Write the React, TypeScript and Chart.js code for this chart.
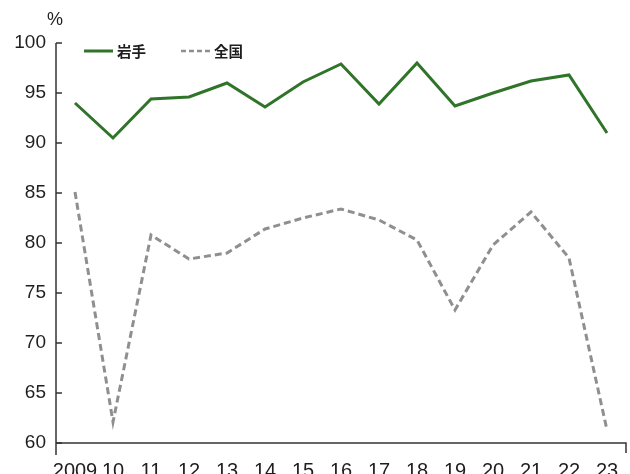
import React, { useEffect, useRef } from "react";
import { Chart, registerables } from "chart.js";

Chart.register(...registerables);

const categories = ["2009", "10", "11", "12", "13", "14", "15", "16", "17", "18", "19", "20", "21", "22", "23"];
const iwate = [94.0, 90.5, 94.4, 94.6, 96.0, 93.6, 96.1, 97.9, 93.9, 98.0, 93.7, 95.0, 96.2, 96.8, 91.0];
const national = [85.1, 62.1, 80.8, 78.4, 79.0, 81.4, 82.5, 83.4, 82.3, 80.3, 73.3, 79.8, 83.1, 78.5, 61.3];
const yTicks = [60, 65, 70, 75, 80, 85, 90, 95, 100];

const GREEN = "#2f7428";
const GRAY = "#8f8f91";
const AXIS = "#333333";
const TEXT = "#1e1e1e";
const FONT = "'Liberation Sans', Arial, Helvetica, sans-serif";
const CJK = "'Noto Sans CJK JP', 'Noto Sans', sans-serif";

const decorPlugin = {
  id: "decor",
  afterDraw(chart: any) {
    const ctx = chart.ctx;
    const a = chart.chartArea;
    const y = chart.scales.y;
    ctx.save();
    ctx.strokeStyle = AXIS;
    ctx.lineWidth = 1.5;
    // y axis line
    ctx.beginPath();
    ctx.moveTo(a.left, a.top);
    ctx.lineTo(a.left, a.bottom + 12);
    ctx.stroke();
    // x axis line + right end tick
    ctx.beginPath();
    ctx.moveTo(a.left, a.bottom);
    ctx.lineTo(a.right, a.bottom);
    ctx.lineTo(a.right, a.bottom + 10);
    ctx.stroke();
    // inward y ticks
    for (const v of yTicks) {
      const py = y.getPixelForValue(v);
      ctx.beginPath();
      ctx.moveTo(a.left, py);
      ctx.lineTo(a.left + 6, py);
      ctx.stroke();
    }
    // % label
    ctx.fillStyle = TEXT;
    ctx.font = `18px ${FONT}`;
    ctx.textAlign = "center";
    ctx.textBaseline = "middle";
    ctx.fillText("%", 55, 20);
    // legend
    const ly = 51;
    ctx.lineCap = "butt";
    ctx.strokeStyle = GREEN;
    ctx.lineWidth = 3;
    ctx.beginPath();
    ctx.moveTo(84, ly);
    ctx.lineTo(113, ly);
    ctx.stroke();
    ctx.strokeStyle = GRAY;
    ctx.lineWidth = 2.5;
    ctx.setLineDash([5, 3]);
    ctx.beginPath();
    ctx.moveTo(181, ly);
    ctx.lineTo(212, ly);
    ctx.stroke();
    ctx.setLineDash([]);
    ctx.fillStyle = TEXT;
    ctx.font = `bold 14.5px ${CJK}`;
    ctx.textAlign = "left";
    ctx.fillText(chart.data.datasets[0].label, 117, ly);
    ctx.fillText(chart.data.datasets[1].label, 214, ly);
    ctx.restore();
  },
};

export default function App() {
  const ref = useRef<HTMLCanvasElement>(null);
  useEffect(() => {
    if (!ref.current) return;
    const chart = new Chart(ref.current, {
      type: "line",
      data: {
        labels: categories,
        datasets: [
          {
            label: "岩手",
            data: iwate,
            borderColor: GREEN,
            borderWidth: 3,
            pointRadius: 0,
            tension: 0,
            fill: false,
          },
          {
            label: "全国",
            data: national,
            borderColor: GRAY,
            borderWidth: 3,
            borderDash: [7, 4],
            pointRadius: 0,
            tension: 0,
            fill: false,
          },
        ],
      },
      options: {
        animation: false,
        responsive: false,
        maintainAspectRatio: false,
        layout: { padding: { top: 43, right: 4, left: 0, bottom: 0 } },
        plugins: { legend: { display: false }, tooltip: { enabled: false } },
        scales: {
          x: {
            offset: true,
            grid: { display: false, offset: true },
            border: { display: false },
            ticks: {
              color: TEXT,
              font: { family: FONT, size: 20 },
              padding: 8,
              maxRotation: 0,
              autoSkip: false,
            },
            afterFit: (s: any) => {
              s.height = 31;
            },
          },
          y: {
            min: 60,
            max: 100,
            grid: { display: false, drawTicks: false, tickLength: 0 },
            border: { display: false },
            afterBuildTicks: (s: any) => {
              s.ticks = yTicks.map((v) => ({ value: v }));
            },
            ticks: {
              color: TEXT,
              font: { family: FONT, size: 19 },
              padding: 10,
            },
            afterFit: (s: any) => {
              s.width = 56;
            },
          },
        },
      },
      plugins: [decorPlugin],
    });
    return () => chart.destroy();
  }, []);
  return (
    <div style={{ position: "fixed", left: 0, top: 0, width: 630, height: 474, background: "#fff" }}>
      <canvas ref={ref} width={630} height={474} style={{ display: "block" }} />
    </div>
  );
}
